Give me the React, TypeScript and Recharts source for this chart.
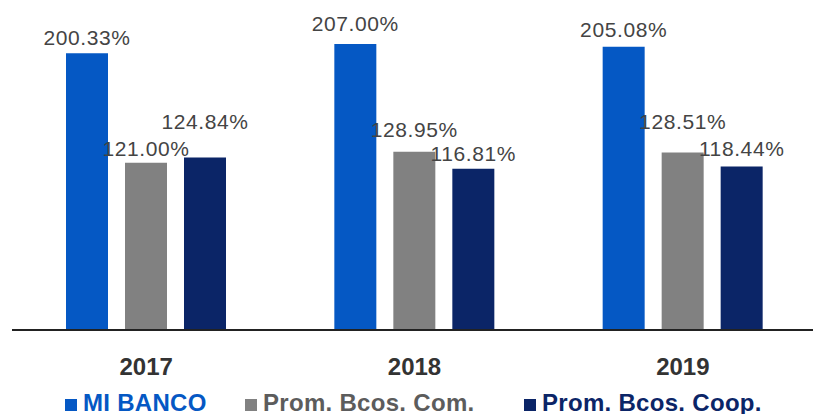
import { BarChart, Bar, XAxis, YAxis, LabelList } from "recharts";

const years = ["2017", "2018", "2019"];
const miBanco = [200.33, 207.0, 205.08];
const promCom = [121.0, 128.95, 128.51];
const promCoop = [124.84, 116.81, 118.44];

const series = [
  { key: "miBanco", name: "MI BANCO", color: "#0558c4", text: "#0558c4", legendX: 65 },
  { key: "promCom", name: "Prom. Bcos. Com.", color: "#818181", text: "#5c5c5c", legendX: 245 },
  { key: "promCoop", name: "Prom. Bcos. Coop.", color: "#0b2567", text: "#0b2567", legendX: 524 },
];

// how far above each bar top the value label baseline sits, per year
const labelLift: Record<string, number[]> = {
  miBanco: [8, 13, 10],
  promCom: [7, 15, 23],
  promCoop: [29, 8, 10],
};

const data = years.map((year, i) => ({
  year,
  miBanco: miBanco[i],
  promCom: promCom[i],
  promCoop: promCoop[i],
}));

const font = "'Liberation Sans', Arial, sans-serif";

const pct = (v: number) => `${v.toFixed(2)}%`;

function valueLabel(seriesKey: string) {
  return (props: any) => {
    const { x, y, width, value, index } = props;
    return (
      <text
        x={x + width / 2}
        y={y - labelLift[seriesKey][index]}
        textAnchor="middle"
        fontSize={21}
        letterSpacing={0.6}
        fill="#444"
        fontFamily={font}
      >
        {pct(value)}
      </text>
    );
  };
}

function YearTick({ x, y, payload }: any) {
  return (
    <text
      x={x}
      y={y + 37}
      textAnchor="middle"
      fontSize={24}
      fontWeight="bold"
      fill="#333"
      fontFamily={font}
    >
      {payload.value}
    </text>
  );
}

export default function App() {
  return (
    <div style={{ position: "absolute", top: 0, left: 0, width: 813, height: 414, background: "#fff", overflow: "hidden" }}>
      <BarChart
        width={813}
        height={390}
        data={data}
        margin={{ top: 4, right: -4, left: 12, bottom: 0 }}
        barSize={42}
        barGap={17}
      >
        <XAxis
          dataKey="year"
          height={60}
          tickLine={false}
          axisLine={{ stroke: "#222", strokeWidth: 2 }}
          tick={<YearTick />}
        />
        <YAxis hide domain={[0, 236]} />
        {series.map((s) => (
          <Bar key={s.key} dataKey={s.key} name={s.name} fill={s.color} isAnimationActive={false}>
            <LabelList dataKey={s.key} content={valueLabel(s.key)} />
          </Bar>
        ))}
      </BarChart>
      {series.map((s) => (
        <div key={s.key}>
          <span
            style={{ position: "absolute", left: s.legendX, top: 399, width: 12, height: 12, background: s.color }}
          />
          <span
            style={{
              position: "absolute",
              left: s.legendX + 18,
              top: 393,
              lineHeight: "20px",
              fontFamily: font,
              fontWeight: "bold",
              fontSize: 24,
              letterSpacing: 0.3,
              color: s.text,
              whiteSpace: "nowrap",
            }}
          >
            {s.name}
          </span>
        </div>
      ))}
    </div>
  );
}
